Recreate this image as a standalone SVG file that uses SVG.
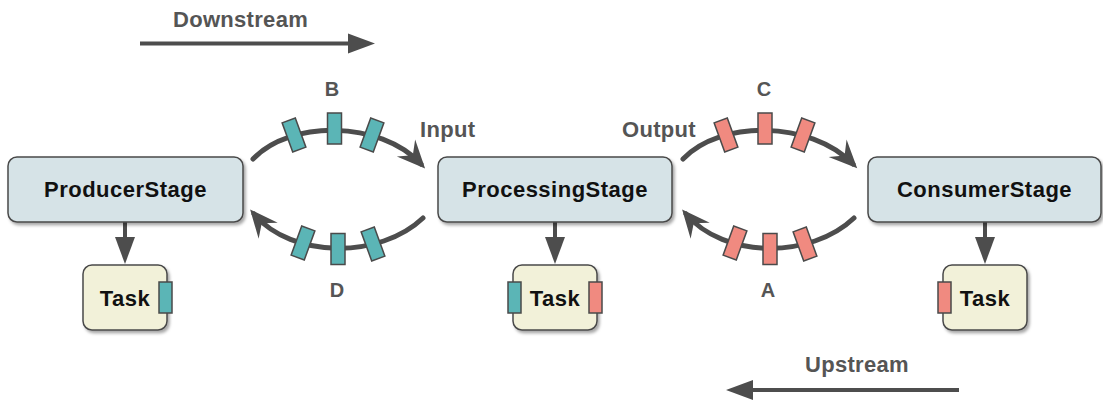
<svg xmlns="http://www.w3.org/2000/svg" width="1103" height="401" viewBox="0 0 1103 401">
  <style>
    .stage { fill: #d6e3e7; stroke: #4a4a4a; stroke-width: 1.5; }
    .task { fill: #f2f1d9; stroke: #4a4a4a; stroke-width: 1.5; }
    .q-teal { fill: #5bb5b6; stroke: #4a4a4a; stroke-width: 1.5; }
    .q-red { fill: #f08a80; stroke: #4a4a4a; stroke-width: 1.5; }
    .name { font-family: "Liberation Sans", Arial, sans-serif; font-weight: bold; font-size: 22px; fill: #111; text-anchor: middle; letter-spacing: 0.5px; }
    .label { font-family: "Liberation Sans", Arial, sans-serif; font-weight: bold; font-size: 22px; fill: #555; letter-spacing: 0.3px; }
    .letter { font-family: "Liberation Sans", Arial, sans-serif; font-weight: bold; font-size: 20px; fill: #555; text-anchor: middle; }
    .flow { fill: none; stroke: #4d4d4d; stroke-width: 5; stroke-linecap: round; }
    .link { fill: none; stroke: #4d4d4d; stroke-width: 4; }
  </style>
  <defs>
    <filter id="shadow" x="-10%" y="-10%" width="125%" height="135%">
      <feDropShadow dx="2" dy="2.5" stdDeviation="1.5" flood-color="#000" flood-opacity="0.35"/>
    </filter>
    <marker id="head" markerUnits="userSpaceOnUse" viewBox="0 -11 27 22" refX="16" refY="0" markerWidth="27" markerHeight="22" orient="auto">
      <path d="M0,-10 L27,0 L0,10 z" fill="#4d4d4d"/>
    </marker>
    <marker id="barb" markerUnits="userSpaceOnUse" viewBox="-30 -14 32 28" refX="-6" refY="0" markerWidth="32" markerHeight="28" orient="auto">
      <path d="M-28,-12.5 L0,0 L-28,12.5 L-18,0 z" fill="#4d4d4d"/>
    </marker>
  </defs>

  <!-- direction hints -->
  <g id="downstream">
    <text class="label" x="173" y="27">Downstream</text>
    <path class="link" d="M140,43.5 H364" marker-end="url(#head)"/>
  </g>
  <g id="upstream">
    <text class="label" x="805" y="372">Upstream</text>
    <path class="link" d="M959,390 H737" marker-end="url(#head)"/>
  </g>

  <!-- connectors -->
  <g id="connectors">
    <path class="link" d="M125,222 V253" marker-end="url(#head)"/>
    <path class="link" d="M555,222 V253" marker-end="url(#head)"/>
    <path class="link" d="M985,222 V253" marker-end="url(#head)"/>

    <path class="flow" d="M253,159 C290,120 380,120 421,164" marker-end="url(#barb)"/>
    <path class="flow" d="M423,218 C380,259 292,259 254,214" marker-end="url(#barb)"/>
    <path class="flow" d="M683,159 C720,120 810,120 853,164" marker-end="url(#barb)"/>
    <path class="flow" d="M854,218 C811,259 724,259 686,214" marker-end="url(#barb)"/>
  </g>

  <!-- queued elements on the links -->
  <g id="queue-b">
    <rect class="q-teal" x="-7" y="-15.5" width="14" height="31" transform="translate(294,135) rotate(-20)"/>
    <rect class="q-teal" x="-7" y="-15.5" width="14" height="31" transform="translate(334.5,128.5)"/>
    <rect class="q-teal" x="-7" y="-15.5" width="14" height="31" transform="translate(372,135) rotate(20)"/>
    <text class="letter" x="332" y="96">B</text>
  </g>
  <g id="queue-d">
    <rect class="q-teal" x="-7" y="-15.5" width="14" height="31" transform="translate(303,243) rotate(20)"/>
    <rect class="q-teal" x="-7" y="-15.5" width="14" height="31" transform="translate(338,249)"/>
    <rect class="q-teal" x="-7" y="-15.5" width="14" height="31" transform="translate(373,244) rotate(-20)"/>
    <text class="letter" x="337" y="297">D</text>
  </g>
  <g id="queue-c">
    <rect class="q-red" x="-7" y="-15.5" width="14" height="31" transform="translate(726,135) rotate(-20)"/>
    <rect class="q-red" x="-7" y="-15.5" width="14" height="31" transform="translate(765,128.5)"/>
    <rect class="q-red" x="-7" y="-15.5" width="14" height="31" transform="translate(803,135) rotate(20)"/>
    <text class="letter" x="764" y="96">C</text>
  </g>
  <g id="queue-a">
    <rect class="q-red" x="-7" y="-15.5" width="14" height="31" transform="translate(735,243) rotate(20)"/>
    <rect class="q-red" x="-7" y="-15.5" width="14" height="31" transform="translate(770,249)"/>
    <rect class="q-red" x="-7" y="-15.5" width="14" height="31" transform="translate(805,244) rotate(-20)"/>
    <text class="letter" x="768" y="297">A</text>
  </g>

  <text class="label" x="420" y="137">Input</text>
  <text class="label" x="622" y="137">Output</text>

  <!-- stages -->
  <g id="producer-stage">
    <rect class="stage" x="8" y="157" width="235" height="65" rx="9" filter="url(#shadow)"/>
    <text class="name" x="125.5" y="197">ProducerStage</text>
  </g>
  <g id="processing-stage">
    <rect class="stage" x="438" y="157" width="234" height="65" rx="9" filter="url(#shadow)"/>
    <text class="name" x="555" y="197">ProcessingStage</text>
  </g>
  <g id="consumer-stage">
    <rect class="stage" x="868" y="157" width="233" height="65" rx="9" filter="url(#shadow)"/>
    <text class="name" x="984.5" y="197">ConsumerStage</text>
  </g>

  <!-- tasks -->
  <g id="producer-task">
    <rect class="task" x="83" y="265" width="84" height="65" rx="9" filter="url(#shadow)"/>
    <text class="name" x="125" y="306">Task</text>
    <rect class="q-teal" x="159" y="282" width="13" height="31"/>
  </g>
  <g id="processing-task">
    <rect class="task" x="513" y="265" width="84" height="65" rx="9" filter="url(#shadow)"/>
    <text class="name" x="555" y="306">Task</text>
    <rect class="q-teal" x="508" y="282" width="13" height="31"/>
    <rect class="q-red" x="589" y="282" width="13" height="31"/>
  </g>
  <g id="consumer-task">
    <rect class="task" x="943" y="265" width="84" height="65" rx="9" filter="url(#shadow)"/>
    <text class="name" x="985" y="306">Task</text>
    <rect class="q-red" x="938" y="282" width="13" height="31"/>
  </g>
</svg>
